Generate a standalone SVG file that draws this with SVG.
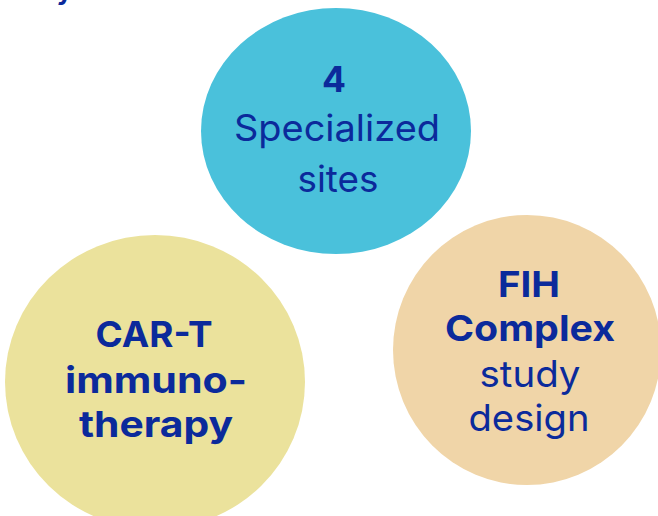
<svg xmlns="http://www.w3.org/2000/svg" width="658" height="516" viewBox="0 0 658 516">
  <style>
    text { font-family: Inter, "Noto Sans", "Liberation Sans", sans-serif; fill: #0B2A9B; text-anchor: middle; }
    .b { font-weight: 700; }
    .r { font-weight: 400; }
  </style>
  <rect width="658" height="516" fill="#ffffff"/>
  <!-- heading, mostly above the top edge -->
  <text class="b" x="24" y="0" style="text-anchor:start;font-size:26px">Key Features</text>

  <g id="sites">
    <ellipse cx="336" cy="131" rx="135" ry="123" fill="#4AC1DB"/>
    <text class="b" x="334" y="92" font-size="36" textLength="24" lengthAdjust="spacingAndGlyphs">4</text>
    <text class="r" x="337" y="141" font-size="37" textLength="206" lengthAdjust="spacingAndGlyphs">Specialized</text>
    <text class="r" x="338" y="192" font-size="37" textLength="81" lengthAdjust="spacingAndGlyphs">sites</text>
  </g>

  <g id="cart">
    <ellipse cx="155" cy="382" rx="150" ry="147" fill="#EBE29C"/>
    <text class="b" x="154" y="347" font-size="36" textLength="117" lengthAdjust="spacingAndGlyphs">CAR-T</text>
    <text class="b" x="156" y="393" font-size="36" textLength="182" lengthAdjust="spacingAndGlyphs">immuno-</text>
    <text class="b" x="156" y="437" font-size="36" textLength="154" lengthAdjust="spacingAndGlyphs">therapy</text>
  </g>

  <g id="fih">
    <ellipse cx="527" cy="350" rx="134" ry="135" fill="#F0D5A8"/>
    <text class="b" x="529" y="297" font-size="36" textLength="62" lengthAdjust="spacingAndGlyphs">FIH</text>
    <text class="b" x="530" y="341" font-size="36" textLength="170" lengthAdjust="spacingAndGlyphs">Complex</text>
    <text class="r" x="530" y="387" font-size="37" textLength="101" lengthAdjust="spacingAndGlyphs">study</text>
    <text class="r" x="529" y="431" font-size="37" textLength="121" lengthAdjust="spacingAndGlyphs">design</text>
  </g>
</svg>
